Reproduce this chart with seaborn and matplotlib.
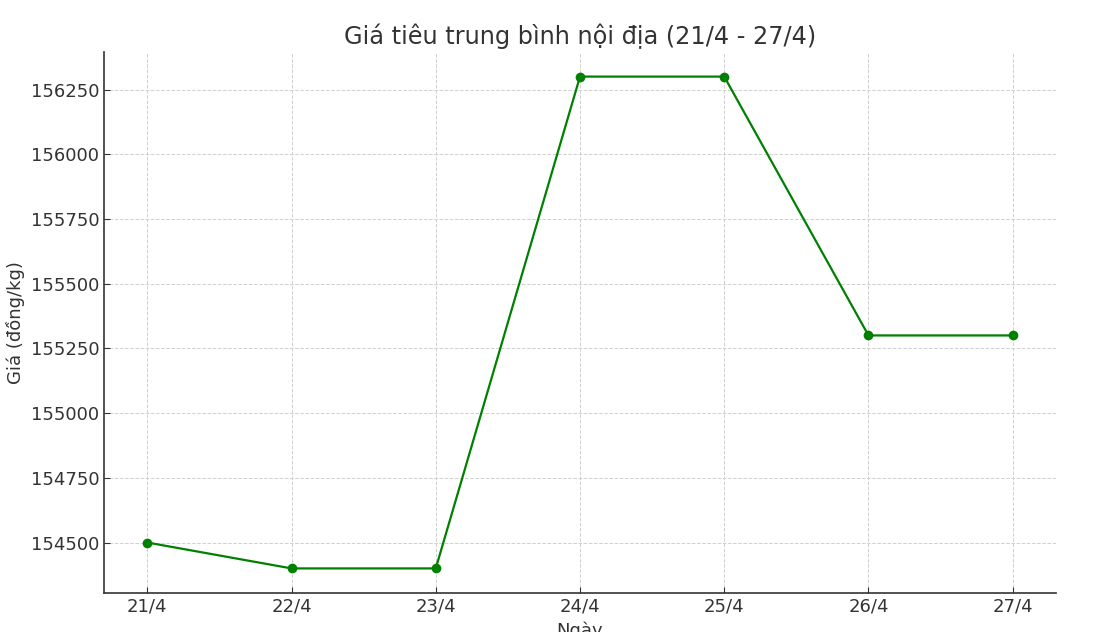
import matplotlib
matplotlib.use("Agg")
import matplotlib.pyplot as plt
import seaborn as sns
import pandas as pd

# data
days = ["21/4", "22/4", "23/4", "24/4", "25/4", "26/4", "27/4"]
prices = [154500, 154400, 154400, 156300, 156300, 155300, 155300]

df = pd.DataFrame({"Ngày": days, "Giá": prices})

sns.set_style("ticks")
plt.rcParams['font.family'] = ['DejaVu Sans']
plt.rcParams['text.color'] = '#333333'
plt.rcParams['axes.labelcolor'] = '#333333'
plt.rcParams['xtick.color'] = '#333333'
plt.rcParams['ytick.color'] = '#333333'

fig = plt.figure(figsize=(11.04, 6.32), dpi=100)
ax = fig.add_axes([104 / 1104, 39 / 632, 952 / 1104, 541 / 632])

sns.lineplot(data=df, x="Ngày", y="Giá", marker="o", color="green",
             markersize=7, markeredgewidth=0, linewidth=1.6, ax=ax, sort=False)

ax.grid(True, linestyle="--", color="#d0d0d0", linewidth=0.7)
ax.set_axisbelow(True)
sns.despine(ax=ax)
for s in ["left", "bottom"]:
    ax.spines[s].set_color("#333333")
    ax.spines[s].set_linewidth(1.2)
ax.tick_params(direction="in", labelsize=13, length=4)
ax.set_yticks([154500, 154750, 155000, 155250, 155500, 155750, 156000, 156250])
ax.ticklabel_format(axis="y", style="plain", useOffset=False)
ax.set_title("Giá tiêu trung bình nội địa (21/4 - 27/4)", fontsize=17.3, pad=6)
ax.set_xlabel("Ngày", fontsize=13)
ax.set_ylabel("Giá (đồng/kg)", fontsize=13)

fig.savefig("out.png", dpi=100)
